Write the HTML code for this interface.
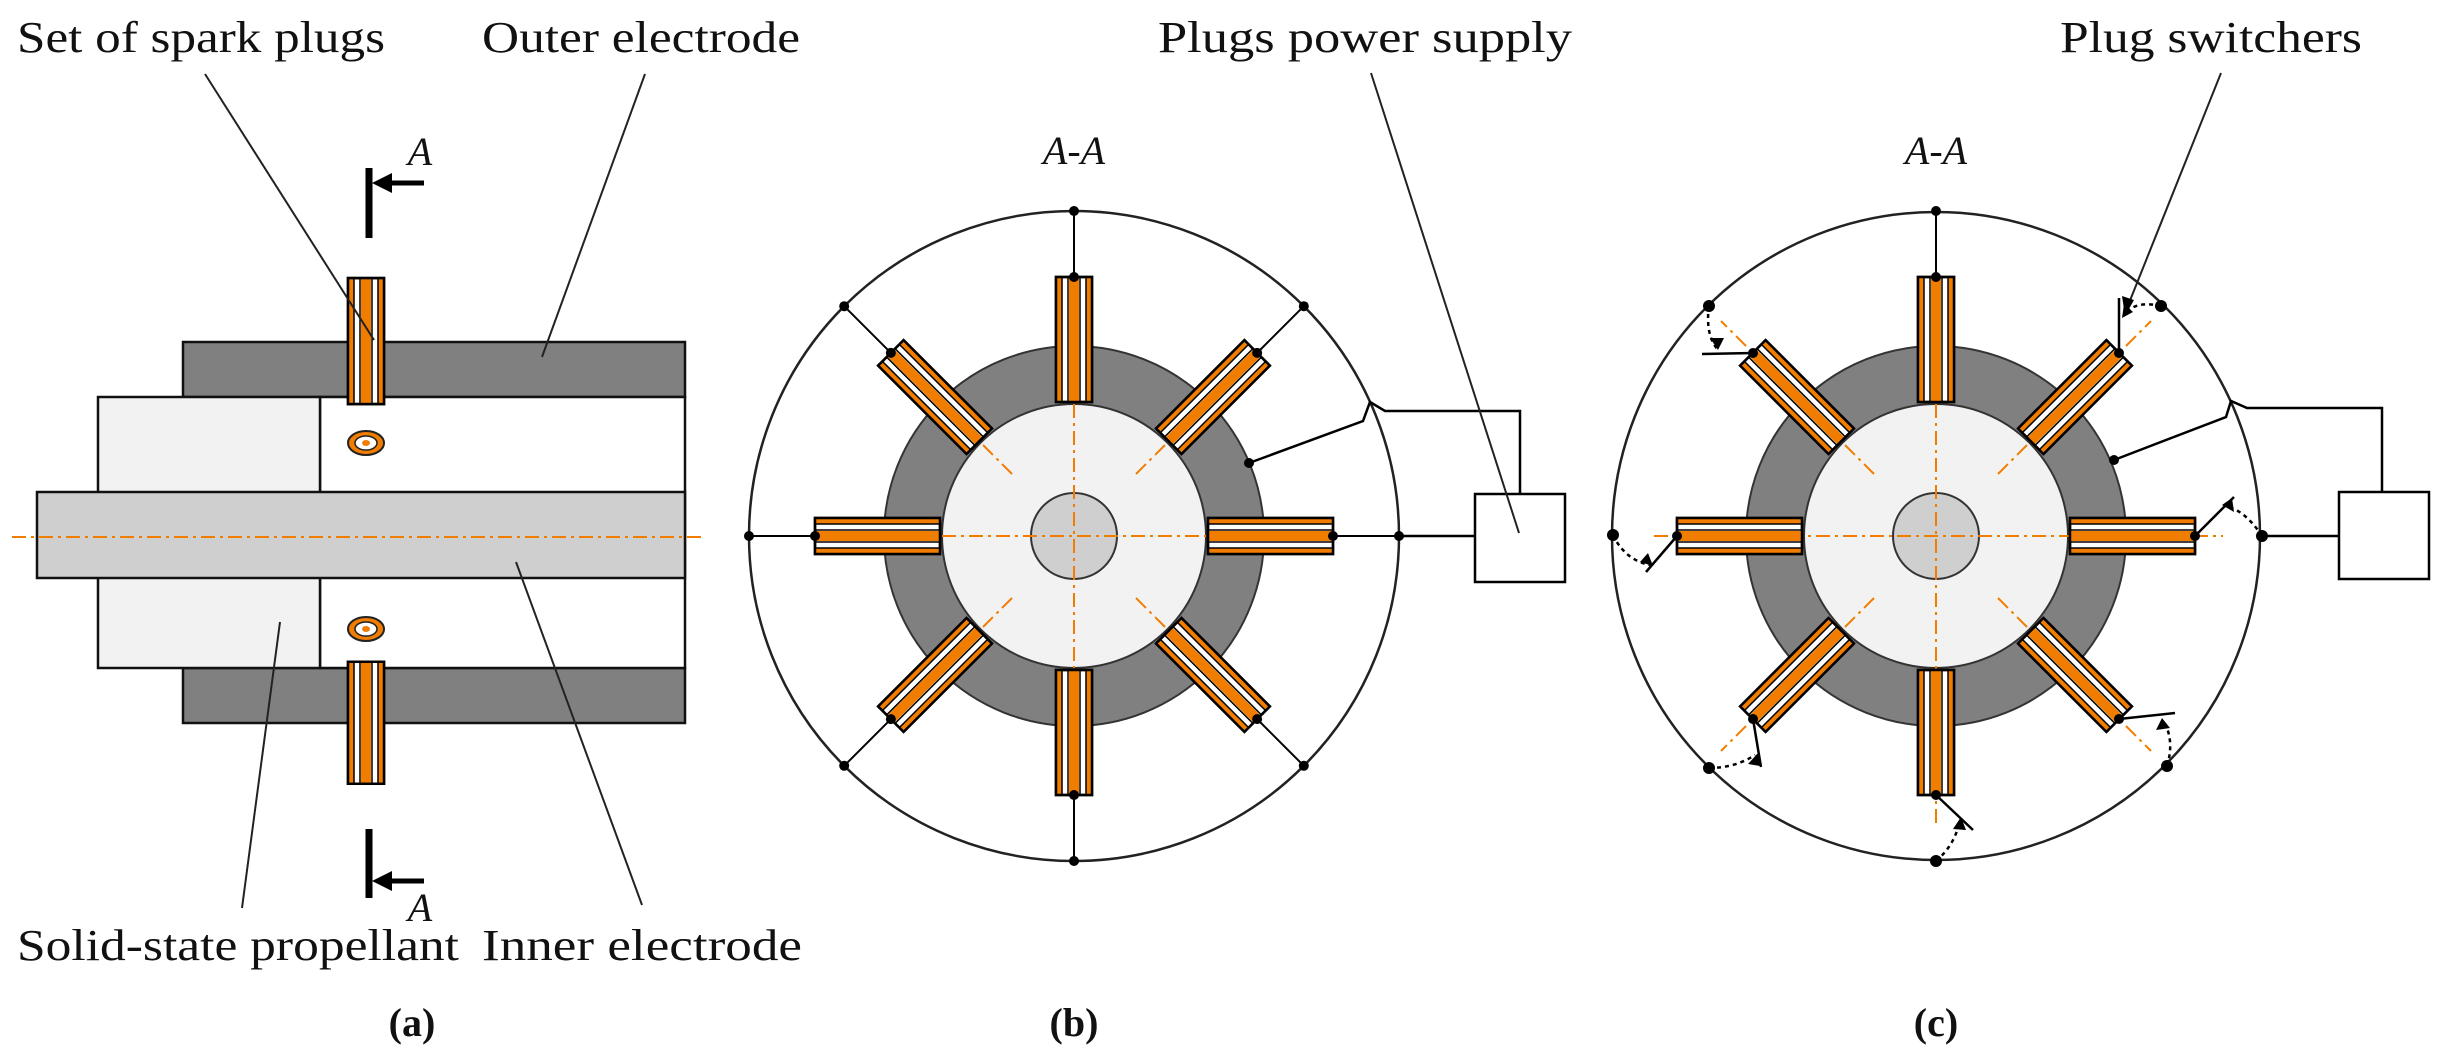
<!DOCTYPE html>
<html><head><meta charset="utf-8"><style>
html,body{margin:0;padding:0;background:#fff}
svg{display:block}
text{font-family:"Liberation Serif",serif;fill:#111}
</style></head><body>
<svg width="2442" height="1056" viewBox="0 0 2442 1056" xmlns="http://www.w3.org/2000/svg">
<defs>
<g id="plug">
  <rect x="134" y="-18" width="125" height="36" fill="#fff" stroke="#000" stroke-width="2.5"/>
  <rect x="134" y="-17" width="125" height="5" fill="#f07d00"/>
  <rect x="134" y="-5" width="125" height="10" fill="#f07d00"/>
  <rect x="134" y="12" width="125" height="5" fill="#f07d00"/>
  <line x1="134" y1="-12" x2="259" y2="-12" stroke="#000" stroke-width="1.5"/>
  <line x1="134" y1="-6" x2="259" y2="-6" stroke="#000" stroke-width="1.5"/>
  <line x1="134" y1="6" x2="259" y2="6" stroke="#000" stroke-width="1.5"/>
  <line x1="134" y1="12" x2="259" y2="12" stroke="#000" stroke-width="1.5"/>
  <rect x="134" y="-18" width="125" height="36" fill="none" stroke="#000" stroke-width="2.5"/>
</g>
<g id="wire">
  <line x1="259" y1="0" x2="325" y2="0" stroke="#000" stroke-width="2"/>
  <circle cx="259" cy="0" r="5"/><circle cx="325" cy="0" r="5"/>
</g>
<g id="body">
  <circle r="190" fill="#808080" stroke="#333" stroke-width="2"/>
  <circle r="132" fill="#f2f2f2" stroke="#333" stroke-width="2"/>
  <circle r="43" fill="#cfcfcf" stroke="#333" stroke-width="2"/>
</g>
</defs>

<!-- ===== Panel (a) ===== -->
<rect x="183" y="342" width="502" height="55" fill="#808080" stroke="#111" stroke-width="2.5"/>
<rect x="183" y="668" width="502" height="55" fill="#808080" stroke="#111" stroke-width="2.5"/>
<rect x="320" y="397" width="365" height="271" fill="#fff" stroke="#111" stroke-width="2.5"/>
<rect x="98" y="397" width="222" height="271" fill="#f2f2f2" stroke="#111" stroke-width="2.5"/>
<rect x="37" y="492" width="648" height="86" fill="#d0cfd0" stroke="#111" stroke-width="2.5"/>
<line x1="12" y1="537" x2="705" y2="537" stroke="#f07d00" stroke-width="2" stroke-dasharray="14,5,3,5"/>
<g transform="translate(366,277) rotate(90) translate(-134,0)"><use href="#plug" transform="scale(1.008,1) translate(0,0)"/></g>
<g transform="translate(366,665) rotate(90) translate(-134,0)"><use href="#plug" transform="scale(0.976,1)"/></g>
<ellipse cx="366" cy="443" rx="18" ry="12" fill="#f07d00" stroke="#222" stroke-width="2"/>
<ellipse cx="366" cy="443" rx="11" ry="7" fill="#fff" stroke="#222" stroke-width="1.5"/>
<ellipse cx="366" cy="443" rx="4" ry="3" fill="#f07d00"/>
<ellipse cx="366" cy="629" rx="18" ry="12" fill="#f07d00" stroke="#222" stroke-width="2"/>
<ellipse cx="366" cy="629" rx="11" ry="7" fill="#fff" stroke="#222" stroke-width="1.5"/>
<ellipse cx="366" cy="629" rx="4" ry="3" fill="#f07d00"/>
<!-- section marks -->
<line x1="369" y1="168" x2="369" y2="238" stroke="#000" stroke-width="7"/>
<line x1="380" y1="183" x2="424" y2="183" stroke="#000" stroke-width="5"/>
<polygon points="372,183 392,173 392,193"/>
<text x="420" y="165" font-size="40" font-style="italic" text-anchor="middle">A</text>
<line x1="369" y1="829" x2="369" y2="898" stroke="#000" stroke-width="7"/>
<line x1="380" y1="881" x2="424" y2="881" stroke="#000" stroke-width="5"/>
<polygon points="372,881 392,871 392,891"/>
<text x="420" y="921" font-size="40" font-style="italic" text-anchor="middle">A</text>
<!-- leaders -->
<g stroke="#222" stroke-width="2">
<line x1="205" y1="74" x2="374" y2="340"/>
<line x1="645" y1="74" x2="542" y2="357"/>
<line x1="242" y1="908" x2="280" y2="622"/>
<line x1="642" y1="905" x2="516" y2="562"/>
</g>
<text x="17" y="52" font-size="44" textLength="368" lengthAdjust="spacingAndGlyphs">Set of spark plugs</text>
<text x="482" y="52" font-size="44" textLength="318" lengthAdjust="spacingAndGlyphs">Outer electrode</text>
<text x="17" y="960" font-size="44" textLength="442" lengthAdjust="spacingAndGlyphs">Solid-state propellant</text>
<text x="482" y="960" font-size="44" textLength="320" lengthAdjust="spacingAndGlyphs">Inner electrode</text>
<text x="412" y="1036" font-size="40" font-weight="bold" text-anchor="middle">(a)</text>

<!-- ===== Panel (b) ===== -->
<g transform="translate(1074,536)">
  <circle r="325" fill="none" stroke="#222" stroke-width="2.5"/>
  <use href="#body"/>
  <g stroke="#f07d00" stroke-width="2" stroke-dasharray="14,5,3,5">
    <line x1="-132" y1="0" x2="132" y2="0"/><line x1="0" y1="-132" x2="0" y2="132"/>
    <line x1="62" y1="62" x2="93" y2="93"/><line x1="-62" y1="62" x2="-93" y2="93"/>
    <line x1="62" y1="-62" x2="93" y2="-93"/><line x1="-62" y1="-62" x2="-93" y2="-93"/>
  </g>
  <use href="#plug"/><use href="#plug" transform="rotate(45)"/><use href="#plug" transform="rotate(90)"/><use href="#plug" transform="rotate(135)"/>
  <use href="#plug" transform="rotate(180)"/><use href="#plug" transform="rotate(225)"/><use href="#plug" transform="rotate(270)"/><use href="#plug" transform="rotate(315)"/>
  <use href="#wire"/><use href="#wire" transform="rotate(45)"/><use href="#wire" transform="rotate(90)"/><use href="#wire" transform="rotate(135)"/>
  <use href="#wire" transform="rotate(180)"/><use href="#wire" transform="rotate(225)"/><use href="#wire" transform="rotate(270)"/><use href="#wire" transform="rotate(315)"/>
</g>
<line x1="1399" y1="536" x2="1475" y2="536" stroke="#000" stroke-width="2.5"/>
<rect x="1475" y="494" width="90" height="88" fill="#fff" stroke="#000" stroke-width="2.5"/>
<polyline points="1520,494 1520,411 1385,411 1370,402 1363,421 1249,463" fill="none" stroke="#000" stroke-width="2.5"/>
<circle cx="1249" cy="463" r="5"/>
<line x1="1371" y1="73" x2="1519" y2="533" stroke="#222" stroke-width="2"/>
<text x="1158" y="52" font-size="44" textLength="414" lengthAdjust="spacingAndGlyphs">Plugs power supply</text>
<text x="1074" y="164" font-size="40" font-style="italic" text-anchor="middle">A-A</text>
<text x="1074" y="1036" font-size="40" font-weight="bold" text-anchor="middle">(b)</text>

<!-- ===== Panel (c) ===== -->
<g transform="translate(1936,536)">
  <circle r="324" fill="none" stroke="#222" stroke-width="2.5"/>
  <use href="#body"/>
  <g stroke="#f07d00" stroke-width="2" stroke-dasharray="14,5,3,5">
    <line x1="-282" y1="0" x2="287" y2="0"/><line x1="0" y1="-132" x2="0" y2="290"/>
    <line x1="62" y1="62" x2="93" y2="93"/><line x1="-62" y1="62" x2="-93" y2="93"/>
    <line x1="62" y1="-62" x2="93" y2="-93"/><line x1="-62" y1="-62" x2="-93" y2="-93"/>
    <line x1="190" y1="-190" x2="215" y2="-215"/><line x1="-190" y1="-190" x2="-215" y2="-215"/>
    <line x1="190" y1="190" x2="215" y2="215"/><line x1="-190" y1="190" x2="-215" y2="215"/>
  </g>
  <use href="#plug"/><use href="#plug" transform="rotate(45)"/><use href="#plug" transform="rotate(90)"/><use href="#plug" transform="rotate(135)"/>
  <use href="#plug" transform="rotate(180)"/><use href="#plug" transform="rotate(225)"/><use href="#plug" transform="rotate(270)"/><use href="#plug" transform="rotate(315)"/>
  <use href="#wire" transform="rotate(270)"/>
</g>
<!-- switch arms -->
<g stroke="#000" stroke-width="2.5" fill="none">
  <line x1="1753" y1="353" x2="1702" y2="354"/>
  <line x1="2119" y1="353" x2="2119" y2="298"/>
  <line x1="2195" y1="536" x2="2234" y2="497"/>
  <line x1="1677" y1="536" x2="1646" y2="572"/>
  <line x1="2119" y1="719" x2="2175" y2="713"/>
  <line x1="1753" y1="719" x2="1761" y2="767"/>
  <line x1="1936" y1="795" x2="1973" y2="830"/>
</g>
<g stroke="#000" stroke-width="2.5" fill="none" stroke-dasharray="4,4">
  <path d="M1709,306 Q1705,335 1718,350"/>
  <path d="M2161,306 Q2135,300 2124,315"/>
  <path d="M2262,536 Q2245,510 2225,506"/>
  <path d="M1613,535 Q1625,560 1650,565"/>
  <path d="M2167,766 Q2175,740 2163,720"/>
  <path d="M1709,768 Q1735,768 1755,755"/>
  <path d="M1936,861 Q1955,845 1960,820"/>
</g>
<g>
  <polygon points="1718,350 1710,338 1724,338"/>
  <polygon points="2122,318 2124,304 2133,312"/>
  <polygon points="2222,505 2232,498 2234,512"/>
  <polygon points="1653,566 1640,562 1648,553"/>
  <polygon points="2162,718 2170,728 2156,730"/>
  <polygon points="1758,753 1748,764 1760,766"/>
  <polygon points="1961,817 1966,830 1953,829"/>
  <circle cx="1709" cy="306" r="6"/><circle cx="2161" cy="306" r="6"/><circle cx="2262" cy="536" r="6"/>
  <circle cx="1613" cy="535" r="6"/><circle cx="2167" cy="766" r="6"/><circle cx="1709" cy="768" r="6"/>
  <circle cx="1936" cy="861" r="6"/>
  <circle cx="1753" cy="353" r="5"/><circle cx="2119" cy="353" r="5"/><circle cx="2195" cy="536" r="5"/>
  <circle cx="1677" cy="536" r="5"/><circle cx="2119" cy="719" r="5"/><circle cx="1753" cy="719" r="5"/><circle cx="1936" cy="795" r="5"/>
</g>
<line x1="2260" y1="536" x2="2339" y2="536" stroke="#000" stroke-width="2.5"/>
<rect x="2339" y="492" width="90" height="87" fill="#fff" stroke="#000" stroke-width="2.5"/>
<polyline points="2382,492 2382,408 2247,408 2231,401 2226,417 2114,460" fill="none" stroke="#000" stroke-width="2.5"/>
<circle cx="2114" cy="460" r="5"/>
<line x1="2221" y1="73" x2="2127" y2="308" stroke="#222" stroke-width="2"/>
<polygon points="2125,316 2122,296 2134,300"/>
<text x="2060" y="52" font-size="44" textLength="302" lengthAdjust="spacingAndGlyphs">Plug switchers</text>
<text x="1936" y="164" font-size="40" font-style="italic" text-anchor="middle">A-A</text>
<text x="1936" y="1036" font-size="40" font-weight="bold" text-anchor="middle">(c)</text>
</svg>
</body></html>
